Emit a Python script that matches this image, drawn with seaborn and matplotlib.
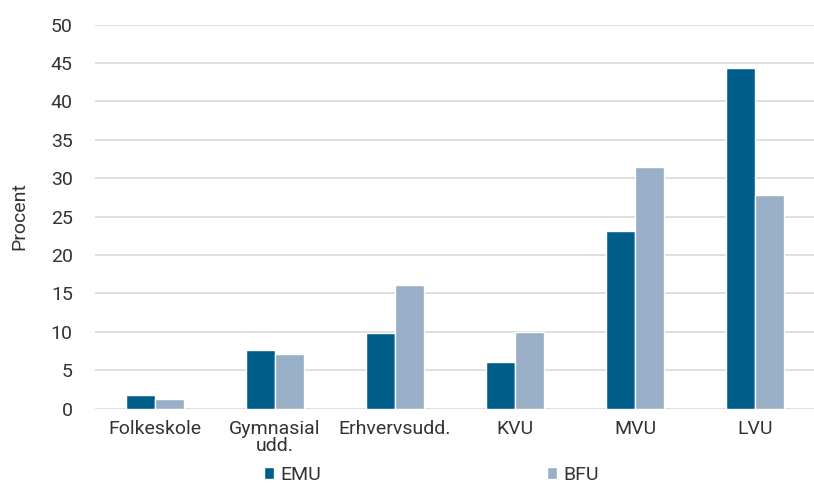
import matplotlib
matplotlib.use("Agg")
import matplotlib.pyplot as plt
import seaborn as sns
import pandas as pd

categories = ["Folkeskole", "Gymnasial\nudd.", "Erhvervsudd.", "KVU", "MVU", "LVU"]
emu = [1.8, 7.6, 9.8, 6.0, 23.1, 44.3]
bfu = [1.3, 7.1, 16.1, 9.9, 31.4, 27.8]
series = ["EMU", "BFU"]
colors = ["#005F8A", "#98AFC7"]

df = pd.DataFrame({
    "kategori": categories * 2,
    "procent": emu + bfu,
    "gruppe": [series[0]] * len(emu) + [series[1]] * len(bfu),
})

sns.set_theme(style="white")
plt.rcParams["font.family"] = ["Roboto", "DejaVu Sans"]

fig = plt.figure(figsize=(8.14, 4.84), dpi=100)
ax = fig.add_axes([95 / 814, 1 - 408.5 / 484, 720 / 814, 384 / 484])

sns.barplot(data=df, x="kategori", y="procent", hue="gruppe",
            palette=colors, width=0.48, saturation=1, ax=ax)

ax.set_ylim(0, 50)
ax.set_yticks(range(0, 51, 5))
ax.yaxis.grid(True, color="#D9D9D9", linewidth=1.2)
ax.set_axisbelow(True)
for s in ax.spines.values():
    s.set_visible(False)
ax.tick_params(axis="both", length=0, labelsize=14, colors="#333333")
ax.tick_params(axis="y", pad=16)
ax.tick_params(axis="x", pad=8)
ax.set_xlabel("")
ax.set_ylabel("Procent", fontsize=14, color="#333333", labelpad=16)
for lbl in ax.get_xticklabels():
    lbl.set_linespacing(0.95)

ax.legend(loc="upper left", bbox_to_anchor=(0.21, -0.104), ncol=2,
          frameon=False, fontsize=14, handlelength=0.55, handleheight=0.55,
          handletextpad=0.3, columnspacing=11.6, labelcolor="#333333")

fig.savefig("out.png", dpi=100)
